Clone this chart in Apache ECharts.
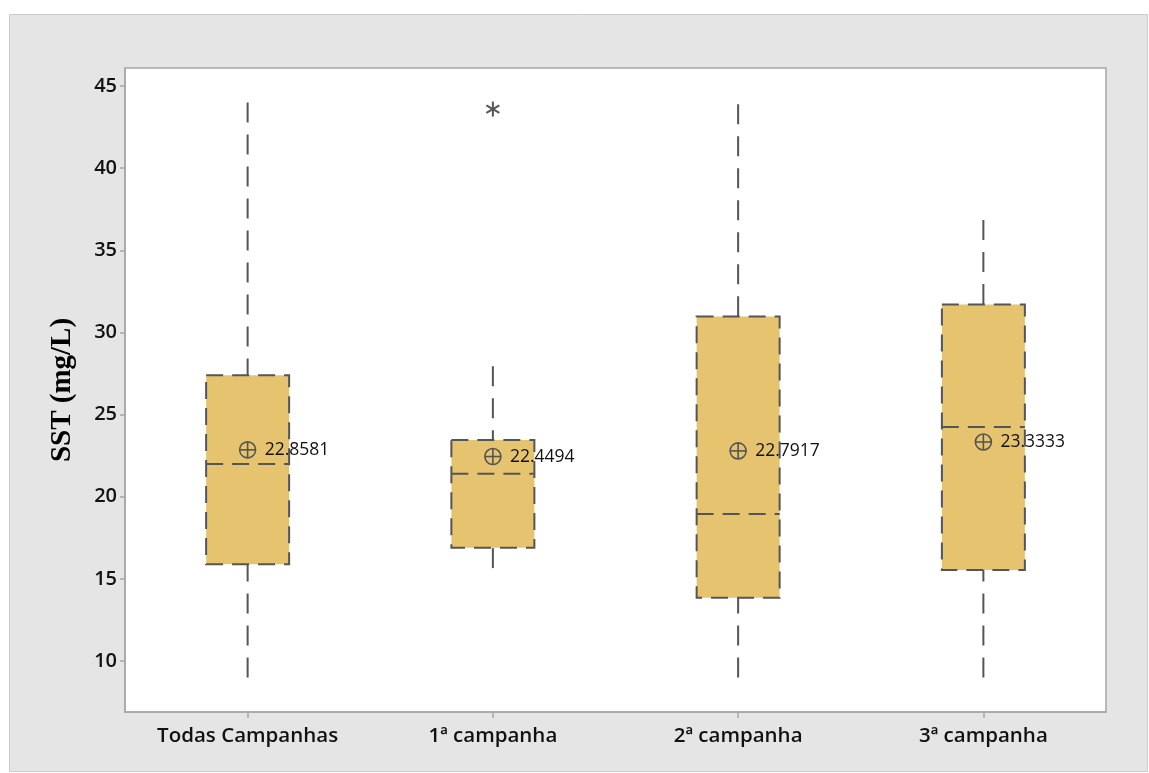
<!DOCTYPE html>
<html>
<head>
<meta charset="utf-8">
<script src="https://cdn.jsdelivr.net/npm/echarts@6/dist/echarts.min.js"></script>
<style>
  html, body { margin: 0; padding: 0; background: #ffffff; }
  #chart { width: 1149px; height: 773px; }
</style>
</head>
<body>
<div id="chart"></div>
<script>
// Suspended solids (SST) by sampling campaign
var categories = ['Todas Campanhas', '1ª campanha', '2ª campanha', '3ª campanha'];
var whiskerLow  = [9.0, 15.66, 9.0, 9.0];
var q1          = [15.9, 16.9, 13.85, 15.55];
var median      = [22.0, 21.4, 18.95, 24.25];
var q3          = [27.4, 23.45, 30.98, 31.71];
var whiskerHigh = [44.0, 27.95, 43.9, 36.85];
var means       = [22.8581, 22.4494, 22.7917, 23.3333];
var outliers    = [[1, 43.6]];
var yTicks      = [10, 15, 20, 25, 30, 35, 40, 45];

var boxData = categories.map(function (c, i) {
  return [i, whiskerLow[i], q1[i], median[i], q3[i], whiskerHigh[i], means[i]];
});

var LINE = '#555555';
var FILL = '#E6C46F';
var DASH = [20, 12];
var BOX_W = 83;

function renderBox(params, api) {
  var i = api.value(0);
  var pLow  = api.coord([i, api.value(1)]);
  var pQ1   = api.coord([i, api.value(2)]);
  var pMed  = api.coord([i, api.value(3)]);
  var pQ3   = api.coord([i, api.value(4)]);
  var pHigh = api.coord([i, api.value(5)]);
  var pMean = api.coord([i, api.value(6)]);
  var x = pQ1[0];
  var half = BOX_W / 2;
  var stroke = { stroke: LINE, lineWidth: 2, lineDash: DASH, fill: null };
  return {
    type: 'group',
    children: [
      { type: 'line', shape: { x1: x, y1: pHigh[1], x2: x, y2: pQ3[1] }, style: stroke },
      { type: 'line', shape: { x1: x, y1: pLow[1], x2: x, y2: pQ1[1] }, style: stroke },
      { type: 'rect', shape: { x: x - half, y: pQ3[1], width: BOX_W, height: pQ1[1] - pQ3[1] },
        style: { fill: FILL, stroke: null } },
      { type: 'rect', shape: { x: x - half, y: pQ3[1], width: BOX_W, height: pQ1[1] - pQ3[1] },
        style: { fill: null, stroke: LINE, lineWidth: 2, lineDash: [17, 9] } },
      { type: 'line', shape: { x1: x - half, y1: pMed[1], x2: x + half, y2: pMed[1] },
        style: { stroke: LINE, lineWidth: 2, lineDash: [17, 9], fill: null } },
      { type: 'circle', shape: { cx: x, cy: pMean[1], r: 8 },
        style: { fill: null, stroke: LINE, lineWidth: 1.6 } },
      { type: 'line', shape: { x1: x - 8, y1: pMean[1], x2: x + 8, y2: pMean[1] },
        style: { stroke: LINE, lineWidth: 1.6 } },
      { type: 'line', shape: { x1: x, y1: pMean[1] - 8, x2: x, y2: pMean[1] + 8 },
        style: { stroke: LINE, lineWidth: 1.6 } },
      { type: 'text', x: x + 17, y: pMean[1],
        style: { text: api.value(6).toFixed(4), fill: '#111111',
                 font: '17.5px "Open Sans", sans-serif', verticalAlign: 'middle', align: 'left' } }
    ]
  };
}

function renderOutlier(params, api) {
  var p = api.coord([api.value(0), api.value(1)]);
  var r = 7.5;
  var dx = r * Math.cos(Math.PI / 6), dy = r * Math.sin(Math.PI / 6);
  var st = { stroke: LINE, lineWidth: 2 };
  return {
    type: 'group',
    children: [
      { type: 'line', shape: { x1: p[0], y1: p[1] - r, x2: p[0], y2: p[1] + r }, style: st },
      { type: 'line', shape: { x1: p[0] - dx, y1: p[1] - dy, x2: p[0] + dx, y2: p[1] + dy }, style: st },
      { type: 'line', shape: { x1: p[0] - dx, y1: p[1] + dy, x2: p[0] + dx, y2: p[1] - dy }, style: st }
    ]
  };
}

var chart = echarts.init(document.getElementById('chart'), null, { renderer: 'canvas' });
chart.setOption({
  backgroundColor: '#ffffff',
  animation: false,
  graphic: [{
    type: 'rect', z: -10, silent: true,
    shape: { x: 9.5, y: 14.5, width: 1138, height: 757 },
    style: { fill: '#e5e5e5', stroke: '#cccccc', lineWidth: 1 }
  }],
  grid: {
    left: 125, top: 68, right: 43, bottom: 61,
    show: true, backgroundColor: '#ffffff', borderColor: '#a6a6a6', borderWidth: 1.5
  },
  xAxis: {
    type: 'category',
    data: categories,
    boundaryGap: true,
    axisLine: { show: true, lineStyle: { color: '#a6a6a6', width: 1.5 } },
    axisTick: { show: true, alignWithLabel: true, length: 6, lineStyle: { color: '#a6a6a6', width: 1.5 } },
    axisLabel: { color: '#111111', fontSize: 20.5, fontWeight: 600, fontFamily: '"Open Sans", sans-serif', margin: 14 },
    splitLine: { show: false }
  },
  yAxis: {
    type: 'value',
    min: 6.9, max: 46.1,
    name: 'SST (mg/L)',
    nameLocation: 'middle',
    nameGap: 48,
    nameTextStyle: { color: '#000000', fontSize: 29, fontWeight: 'bold', fontFamily: '"Liberation Serif", "Times New Roman", serif' },
    axisLine: { show: true, lineStyle: { color: '#a6a6a6', width: 1.5 } },
    axisTick: { show: true, length: 5, lineStyle: { color: '#a6a6a6', width: 1.5 }, customValues: yTicks },
    axisLabel: {
      color: '#111111', fontSize: 20, fontWeight: 600, fontFamily: '"Open Sans", sans-serif', margin: 8,
      customValues: yTicks
    },
    splitLine: { show: false }
  },
  series: [
    {
      type: 'custom',
      renderItem: renderBox,
      data: boxData,
      encode: { x: 0, y: [1, 2, 3, 4, 5] },
      z: 2
    },
    {
      type: 'custom',
      renderItem: renderOutlier,
      data: outliers,
      encode: { x: 0, y: 1 },
      z: 3
    }
  ]
});
</script>
</body>
</html>
